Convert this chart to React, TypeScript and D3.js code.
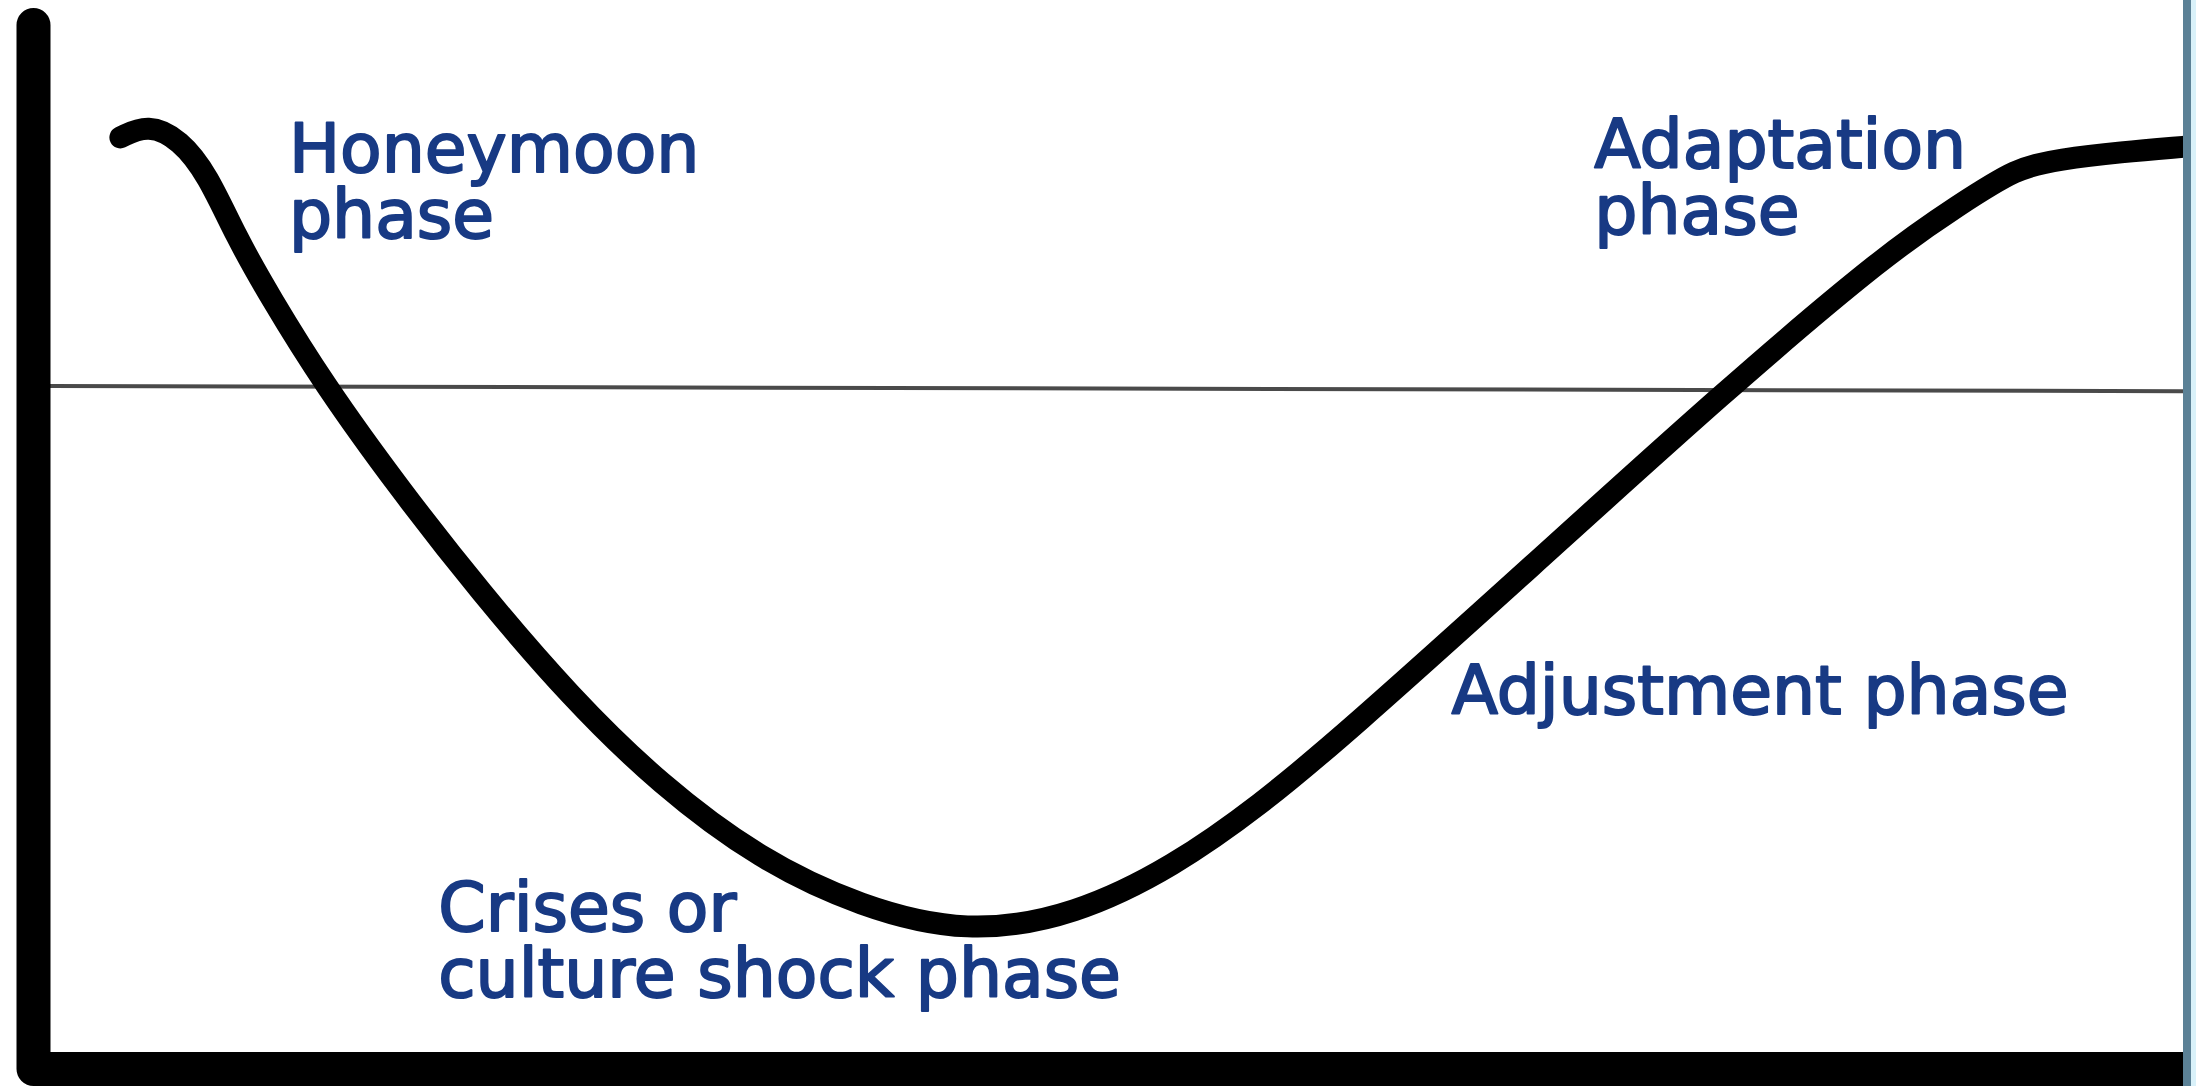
import * as d3 from "d3"

// culture shock curve, time 0..100 across, adjustment level 0..100 up
const curveTime = [3.3, 4.6, 6.1, 7.4, 8.7, 10.3, 12.8, 16.4, 20.2, 24.4, 28.6, 33.3, 38.0, 43.0, 48.1, 52.7, 56.7, 60.7, 69.4, 78.5, 86.3, 89.5, 92.2, 94.2, 97.1, 100]
const curveLevel = [87.6, 88.9, 87.4, 84.0, 78.2, 72.4, 64.1, 53.9, 44.0, 34.0, 25.6, 18.4, 13.9, 11.3, 13.1, 17.8, 23.6, 30.4, 46.4, 63.3, 76.8, 81.1, 84.7, 85.5, 86.2, 86.7]

// the reference (baseline) line, slightly tilted in the original
const baselineTime = [0, 100]
const baselineLevel = [63.8, 63.3]

const labelLines = [
    ["Honeymoon", "phase"],
    ["Adaptation", "phase"],
    ["Adjustment phase"],
    ["Crises or", "culture shock phase"],
]
const labelTime = [11.2, 72.4, 65.7, 18.2]
const labelLevel = [84.3, 84.7, 32.4, 11.6]

const W = 2196
const H = 1086

export default function App() {
    const x = d3.scaleLinear().domain([0, 100]).range([50, 2183])
    const y = d3.scaleLinear().domain([0, 100]).range([1052, 8])

    const pts = curveTime.map((t, i) => ({ t, v: curveLevel[i] }))
    const line = d3.line<{ t: number; v: number }>()
        .x(d => x(d.t))
        .y(d => y(d.v))
        .curve(d3.curveBasis)

    const base = baselineTime.map((t, i) => ({ t, v: baselineLevel[i] }))
    const baseLine = d3.line<{ t: number; v: number }>().x(d => x(d.t)).y(d => y(d.v))

    // thick hand-drawn style axes
    const axisPath = `M${x(0) - 16.5},${y(100) + 17} L${x(0) - 16.5},${y(0) + 17} L${x(100) + 4},${y(0) + 17}`

    return (
        <svg
            width={W}
            height={H}
            style={{ position: "fixed", left: 0, top: 0, background: "#fff" }}
        >
            <rect x={0} y={0} width={W} height={H} fill="#ffffff" />
            <path d={baseLine(base) ?? ""} fill="none" stroke="#4a4a4a" strokeWidth={4} />
            <path
                d={axisPath}
                fill="none"
                stroke="#000"
                strokeWidth={34}
                strokeLinecap="round"
                strokeLinejoin="round"
            />
            <path
                d={line(pts) ?? ""}
                fill="none"
                stroke="#000"
                strokeWidth={22}
                strokeLinecap="round"
                strokeLinejoin="round"
            />
            {labelLines.map((lines, i) => (
                <text
                    key={i}
                    x={x(labelTime[i])}
                    y={y(labelLevel[i])}
                    fontFamily="DejaVu Sans, Verdana, sans-serif"
                    fontSize={68}
                    fill="#183a84"
                    stroke="#183a84"
                    strokeWidth={2}
                    strokeLinejoin="round"
                >
                    {lines.map((s, j) => (
                        <tspan key={j} x={x(labelTime[i])} dy={j === 0 ? 0 : 66}>
                            {s}
                        </tspan>
                    ))}
                </text>
            ))}
            {/* blue frame on the right edge */}
            <rect x={2183} y={0} width={8} height={H} fill="#5b8196" />
            <rect x={2191} y={0} width={5} height={H} fill="#d9f1f9" />
        </svg>
    )
}
